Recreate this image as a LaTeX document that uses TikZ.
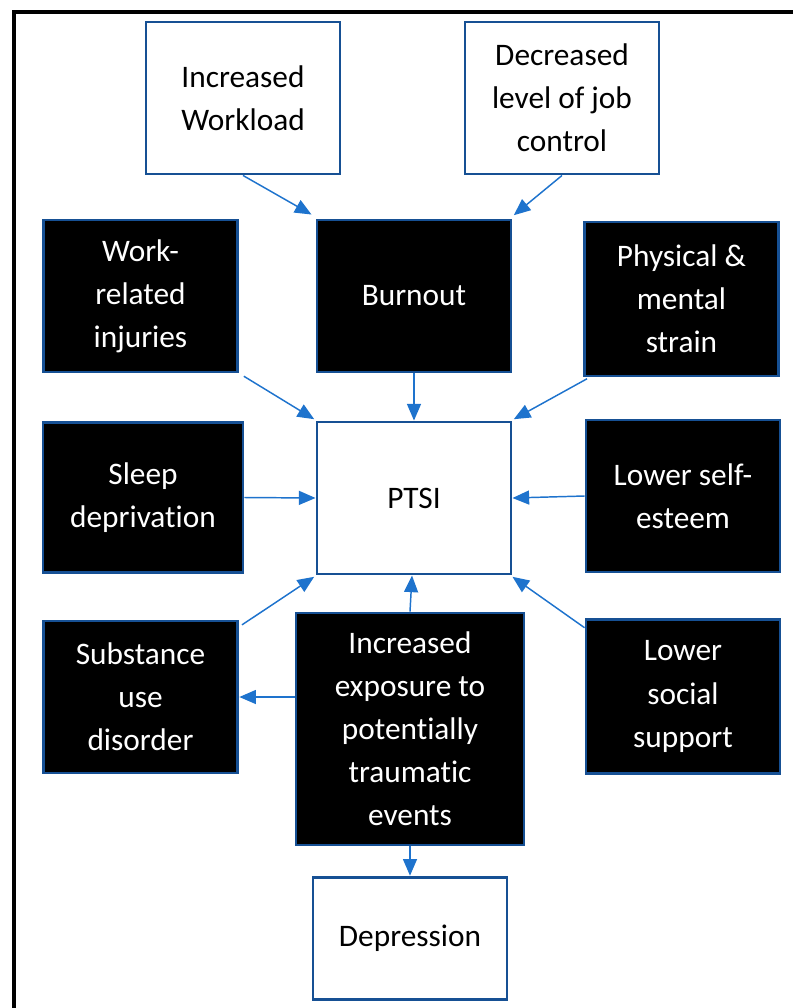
\documentclass[tikz,border=0pt]{standalone}
\usepackage{fontspec}
\setmainfont[Ligatures=NoCommon]{Carlito}
\usetikzlibrary{arrows.meta}
\definecolor{boxblue}{RGB}{22,80,148}
\definecolor{arrowblue}{RGB}{30,115,205}
\begin{document}
\begin{tikzpicture}[x=0.75pt,y=-0.75pt,
  base/.style={draw=boxblue,line width=2.2pt,rectangle,align=center,inner sep=0pt,
    font=\fontsize{23.5pt}{32.3pt}\selectfont},
  wbox/.style={base,fill=white,text=black},
  bbox/.style={base,fill=black,text=white},
  arr/.style={draw=arrowblue,line width=1.1pt,-{Triangle[length=12.5pt,width=10.5pt]}}]
\useasboundingbox (0,0) rectangle (793,1008);
\begin{scope}
\clip (0,0) rectangle (793,1008);
\draw[line width=2.4pt] (14,1030) -- (14,12) -- (810,12);
\end{scope}
\node[wbox,minimum width=145.5pt,minimum height=114pt] (iw) at (243,98) {Increased\\Workload};
\node[wbox,minimum width=145.5pt,minimum height=114pt] (dl) at (562,98) {Decreased\\level of job\\control};
\node[bbox,minimum width=146pt,minimum height=114pt] (wr) at (140.5,296) {Work-\\related\\injuries};
\node[bbox,minimum width=145.5pt,minimum height=114pt] (bo) at (414,296) {Burnout};
\node[bbox,minimum width=146pt,minimum height=115.5pt] (pm) at (681.5,299) {Physical \&\\mental\\strain};
\node[bbox,minimum width=150pt,minimum height=113pt] (sd) at (143,497.5) {Sleep\\deprivation};
\node[wbox,minimum width=145.5pt,minimum height=114pt] (ptsi) at (414,498) {PTSI};
\node[bbox,minimum width=145.5pt,minimum height=114pt] (ls) at (683,496) {Lower self-\\esteem};
\node[bbox,minimum width=146pt,minimum height=114pt] (su) at (140.5,697) {Substance\\use\\disorder};
\node[bbox,minimum width=171pt,minimum height=174pt] (ie) at (410,729) {Increased\\exposure to\\potentially\\traumatic\\events};
\node[bbox,minimum width=145.5pt,minimum height=115pt] (lss) at (683,696.5) {Lower\\social\\support};
\node[wbox,minimum width=145.5pt,minimum height=92pt] (dep) at (410,938.5) {Depression};
% arrows
\draw[arr] (iw.south) -- ([xshift=-3pt,yshift=3pt]bo.north west);
\draw[arr] (dl.south) -- ([xshift=1pt,yshift=2.5pt]bo.north east);
\draw[arr,shorten <=4pt] (wr.south east) -- ([xshift=-1pt,yshift=1pt]ptsi.north west);
\draw[arr] (bo.south) -- (ptsi.north);
\draw[arr,shorten <=2pt] ([xshift=5pt]pm.south west) -- ([xshift=1pt,yshift=1pt]ptsi.north east);
\draw[arr] (sd.east) -- (ptsi.west);
\draw[arr] (ls.west) -- (ptsi.east);
\draw[arr] ([xshift=2pt,yshift=-4pt]su.north east) -- ([xshift=-1pt,yshift=-1pt]ptsi.south west);
\draw[arr] ([xshift=0pt]ie.north) -- ([xshift=-1.5pt]ptsi.south);
\draw[arr] ([yshift=-7pt]lss.north west) -- ([yshift=-1pt]ptsi.south east);
\draw[arr] ([yshift=24pt]ie.west) -- ([yshift=24pt,xshift=0pt]ie.west -| su.east);
\draw[arr] (ie.south) -- (dep.north);
\end{tikzpicture}
\end{document}
